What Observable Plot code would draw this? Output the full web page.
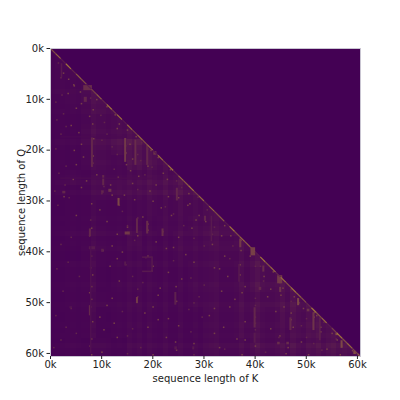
<!DOCTYPE html>
<html><head><meta charset="utf-8">
<script src="https://cdn.jsdelivr.net/npm/d3@7"></script>
<script src="https://cdn.jsdelivr.net/npm/@observablehq/plot@0.6"></script>
<style>html,body{margin:0;background:#fff}svg{display:block}</style>
</head><body><div id="c"></div>
<script>
const tickVals = [0,10,20,30,40,50,60];
const lengthEnd = 60.6;
const blockRows = ["4","45","445","3456","33456","335566","3345777","33454776","343444556","3334545566",
"23333344556","233333344556","2333343344556","22333333444556","233233333444566","2332333334445666",
"23333333344455666","233233333344555667","2332333333445555677","23232333334445555677","23232333334445555677"];
const colWeights = "3454545596"+"6556586858"+"6585585575"+"6785555856"+"9655685965"+"8685675656"+"6";
const rowWeights = "5556555576"+"6575556586"+"5565568685"+"5556568567"+"5575557655"+"7655656586"+"5";
const diagBrightness = "6829376257"+"3949285868"+"2859387958"+"3867296875"+"2968386976"+"3968259685"+"7958687968";
// k1,k2,q1,q2,value — bright patches
const spots = [
[6.5,8.2,7.3,8.3,.35],[6.6,7.2,9.6,10.6,.3],[8,8.4,17.5,23.4,.3],[14.5,14.9,17.7,22.4,.45],[13.2,13.6,29.5,31,.55],
[16.5,16.9,18,23,.35],[18.8,19.2,19,23,.3],[20.2,20.8,20.3,21,.4],[2.1,2.4,3,5.7,.2],[10.2,10.6,25,27,.3],
[2.4,3,28.1,28.6,.3],[10,10.5,28,28.5,.3],[11.4,12,27.7,28.3,.4],[24.6,25,27.5,30,.3],[14.6,15.6,36.1,36.7,.45],
[16.8,17.2,33.5,36.4,.3],[18.8,19.2,34,36.5,.35],[21.8,22.2,35.5,37,.35],[7.6,8.8,39,39.6,.2],[7.6,8,35.5,37,.3],
[10,10.5,39.5,40.1,.25],[14.5,14.9,42,42.8,.2],[18,20,41,41.3,.2],[19.8,20.1,41,44,.2],[18,20,43.8,44.1,.2],
[16.8,17.2,49,50.2,.45],[24.3,24.7,48,50.5,.25],[7.6,8,50.6,52.6,.35],[3.8,4.3,50.8,51.2,.15],[7.8,8.1,39,60,.12],
[24.3,24.8,58.7,59.3,.2],[27.8,28.2,58.7,59.3,.2],[37,37.4,37.5,39.2,.45],[39.2,40.1,39.2,40.8,.5],[41.5,41.9,42.8,44,.35],
[44.4,45.4,44.7,46.3,.45],[48.3,48.7,49.2,50.6,.55],[50.2,50.7,51.3,51.8,.4],[39.8,40.2,51,55,.3],[39.8,40.2,56,58,.2],
[36.8,37.1,42.5,46,.2],[46.8,47.2,53,55.5,.3],[44.4,44.9,57.8,58.3,.35],[46.2,46.7,57.8,58.3,.35],[51.3,51.7,52,55.5,.4],
[52.6,52.9,53,57.5,.25],[56.8,57.2,57.5,59,.55],[59.3,59.8,59.6,60.2,.6],[55.8,56.3,56,56.5,.6],[40.8,41.3,47,47.6,.3],
[44.8,45.2,47,48,.4],[31.4,31.7,33,38,.2],[30.1,30.5,33,34,.3],[2,14,17.4,17.6,.08],[2,20,25.5,25.7,.1]
].map(([k1,k2,q1,q2,v]) => ({k1,k2,q1,q2,v:v*0.55}));

// faint dots read row by row: q -> the k positions where a lighter speck shows
const speckRows = {
  4:[1.5,2.5],6:[2,3.5,4.5],8:[2.2,4.6,5.8,7],10:[1,3.4,6,7.8,9],12:[2.5,5,8.3,9.8,11],14:[1.2,4,7.6,10.5,12.6,13.4],
  16:[3,5.5,8.2,11,13,15],18:[2,6,8.4,10,14.6,16.7,17.8],20:[1,4.6,8.3,12,14.7,15.5,17,18.9,19.6],22:[3,6.4,8.2,13,14.8,16,17.6,19,21],
  24:[1.6,5,9,12.4,15.6,17.2,19.8,22,23.4],26:[2.8,4.4,7,10.4,13.2,16,18.4,20.6,22.8,24.6],28:[0.8,2.6,6,10,11.7,14.4,17,19.4,23,25.6,27],
  30:[3.6,8,12,13.4,16.4,20,22.4,25,27.2,28.8],32:[1.4,5,9.6,14,18,21.6,24,26.8,29,30.6],34:[7.8,11,15,17,19,23.6,26,28.4,30.3,32],
  36:[4,8,13,15,17,19,22,25,27.6,31.6,34,35.2],38:[2,7.6,12,16.4,20.6,24,28,31.6,33.4,35.6,37.2],40:[8,10.2,14,18.6,22.6,26.4,30,34,37.2,39.5],
  42:[3.4,7.8,13,14.7,19,20,24,28,32,35,37,39,41],44:[1.2,8.2,11.6,16,19.8,23,27.4,33,37,40,41.7,43.5],46:[5.6,8,13.4,18,21.4,25.6,30,34.6,38,41.6,44.8,45.4],
  48:[2.4,7.6,12,17,21,24.5,29,33.4,37.4,40,43,45,47,47.6],50:[4,8,11,17,20,24.6,28,32,36,40,42.4,45.6,47,48.5,49.4],
  52:[1,7.8,9.6,14,18.4,23,27,31,35,40,44,47,50,51.5,52],54:[3,8.2,12.4,16,21,25,29.6,33.8,38,40,43,47,49,51.5,52.8,53.4],
  56:[5,8,10.4,15,19,22.6,27.4,32,36.4,40,44.8,47.4,50,52.8,55,55.8],58:[2,7.7,13,17.6,24.4,28,34,38,40,44.6,46.4,49,51.4,54,56,57],
  60:[0.6,8,10,15,20,24.6,28,33,37.4,42,46,50.4,53,56.6,59]
};
const speckDrift = [0,1.1,-.7,.5,-1.2,.8,-.3];
const specks = Object.entries(speckRows).flatMap(([q,ks]) => ks.map((k,i) => {
  const y = Math.max(+q + speckDrift[(i + +q) % 7], k + .4);
  return {k1:k, k2:k+.3, q1:Math.min(y,60.2), q2:Math.min(y,60.2)+.3, v:i%3===0?.16:.27};
}));

const cells = [];
for (let q = 0; q <= 60; q++) for (let k = 0; k <= q; k++) {
  const row = blockRows[Math.floor(q/3)];
  const block = +(row[Math.floor(k/3)] ?? row[row.length-1]);
  cells.push({k1:k, k2:Math.min(k+1,lengthEnd), q1:q, q2:Math.min(q+1,lengthEnd),
    v: block*0.0065*(+colWeights[k])*(+rowWeights[q])/25});
}
const diag = Array.from(diagBrightness.slice(0,61), (d,i) => ({a:i, b:Math.min(i+1,lengthEnd), v:+d*0.055}));
const upper = [{x:0,y1:0,y2:0,z:0},{x:lengthEnd,y1:0,y2:lengthEnd,z:0}];

const chart = Plot.plot({
  width:400, height:400, marginLeft:50, marginRight:40, marginTop:48, marginBottom:44,
  style:{fontFamily:"'DejaVu Sans'", fontSize:"10px", background:"#fff", color:"#222"},
  x:{domain:[0,lengthEnd]},
  y:{domain:[0,lengthEnd], reverse:true},
  color:{type:"linear", range:["#440154","#fde725"], interpolate:"rgb", domain:[0,1]},
  marks:[
    Plot.rect(cells,{x1:"k1",x2:"k2",y1:"q1",y2:"q2",fill:"v",shapeRendering:"crispEdges"}),
    Plot.areaY(upper,{x:"x",y1:"y1",y2:"y2",fill:"z"}),
    Plot.rect(specks,{x1:"k1",x2:"k2",y1:"q1",y2:"q2",fill:"v"}),
    Plot.rect(spots,{x1:"k1",x2:"k2",y1:"q1",y2:"q2",fill:"v"}),
    Plot.link(diag,{x1:"a",y1:"a",x2:"b",y2:"b",stroke:"v",strokeWidth:1.2}),
    Plot.frame({stroke:"#c9c5d2",strokeWidth:1}),
    Plot.axisX({ticks:tickVals,tickFormat:d=>d+"k",tickSize:3,tickPadding:1.5,label:"sequence length of K",labelAnchor:"center",labelArrow:"none",labelOffset:25}),
    Plot.axisY({ticks:tickVals,tickFormat:d=>d+"k",tickSize:3.5,tickPadding:3,label:"sequence length of Q",labelAnchor:"center",labelArrow:"none",labelOffset:33})
  ]
});
document.getElementById("c").append(chart);
</script></body></html>
